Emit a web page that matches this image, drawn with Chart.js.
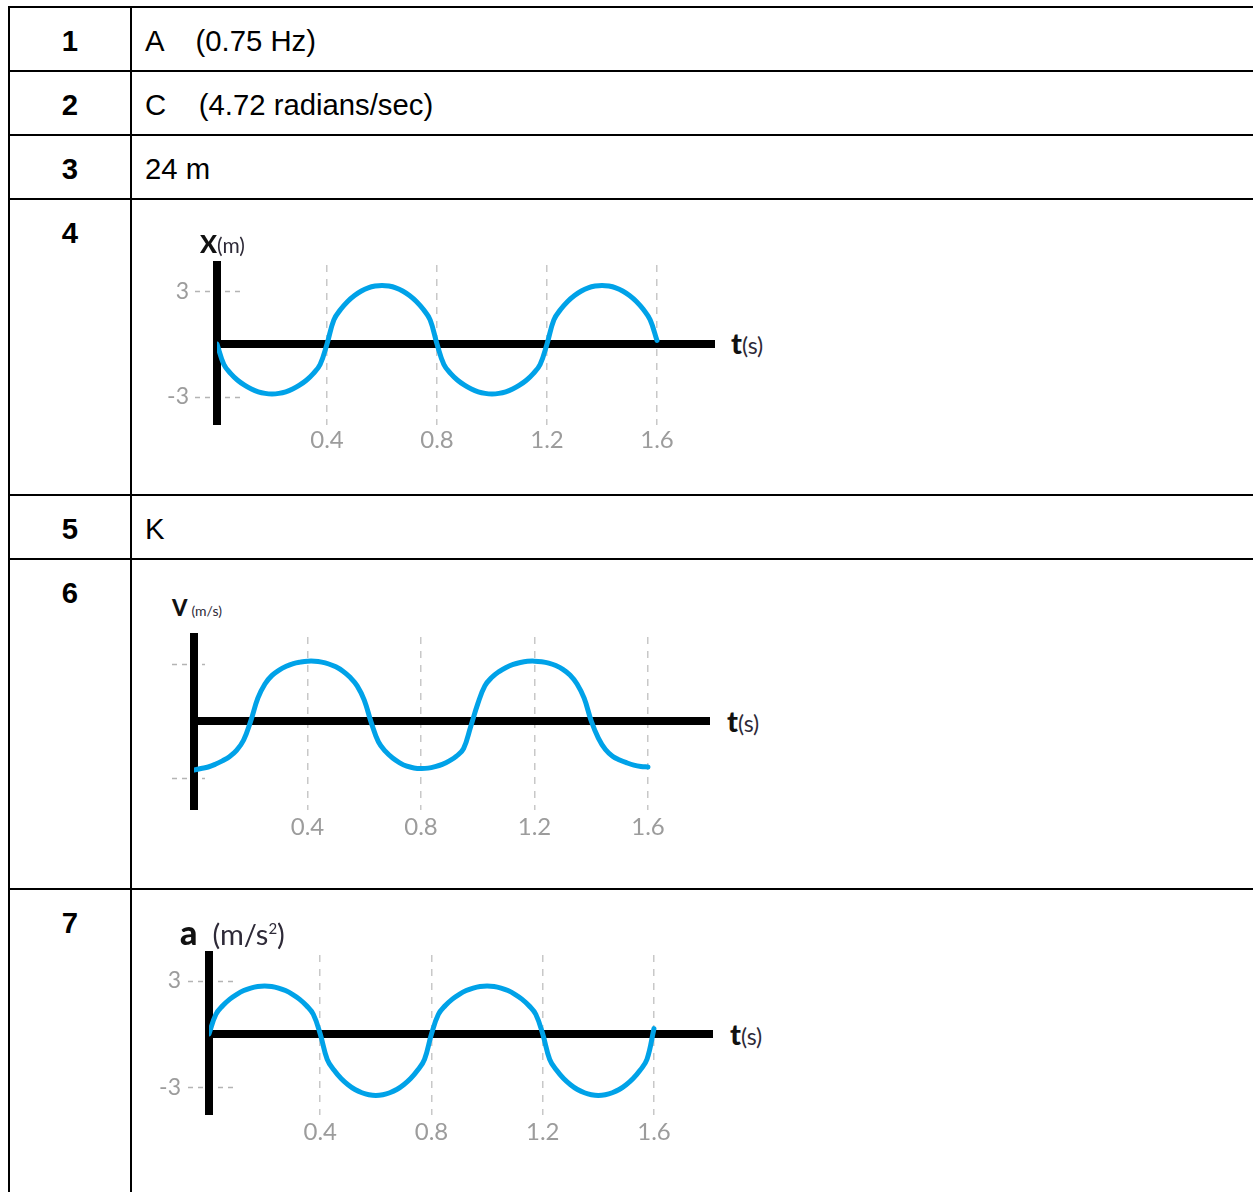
<!DOCTYPE html>
<html>
<head>
<meta charset="utf-8">
<script src="https://cdn.jsdelivr.net/npm/chart.js@4.4.1/dist/chart.umd.min.js"></script>
<style>
  html, body { margin: 0; padding: 0; background: #fff; overflow: hidden; }
  body { width: 1253px; height: 1192px; position: relative; font-family: "Liberation Sans", Arial, sans-serif; }
  .grid {
    position: absolute; left: 8px; top: 6px;
    display: grid;
    grid-template-columns: 122px 1200px;
    grid-template-rows: 64px 64px 64px 296px 64px 330px 400px;
  }
  .cell {
    box-sizing: border-box;
    border-top: 2px solid #000;
    border-left: 2px solid #000;
    font-size: 29.3px;
    padding-top: 16px;
    color: #000;
  }
  .num { font-weight: bold; text-align: center; }
  .txt { padding-left: 13px; white-space: pre; }
  canvas { position: absolute; }
  .lab {
    position: absolute;
    font-family: Lato, "Open Sans", sans-serif;
    line-height: 1;
    white-space: nowrap;
    color: #111;
  }
  .lab b { font-weight: 900; }
  .lab span { color: #2e2a38; }
</style>
</head>
<body>

<div class="grid">
  <div class="cell num">1</div><div class="cell txt">A    (0.75 Hz)</div>
  <div class="cell num">2</div><div class="cell txt">C    (4.72 radians/sec)</div>
  <div class="cell num">3</div><div class="cell txt">24 m</div>
  <div class="cell num">4</div><div class="cell txt"></div>
  <div class="cell num">5</div><div class="cell txt">K</div>
  <div class="cell num">6</div><div class="cell txt"></div>
  <div class="cell num">7</div><div class="cell txt"></div>
</div>

<canvas id="posChart"></canvas>
<canvas id="velChart"></canvas>
<canvas id="accChart"></canvas>

<div class="lab" style="left:200px; top:231px; font-size:25px;"><b>X</b><span style="font-size:21px">(m)</span></div>
<div class="lab" style="left:731px; top:328px; font-size:29px;"><b>t</b><span style="font-size:23px">(s)</span></div>

<div class="lab" style="left:172px; top:597px; font-size:22px;"><b>V</b><span style="font-size:14px; margin-left:4px">(m/s)</span></div>
<div class="lab" style="left:727px; top:706px; font-size:29px;"><b>t</b><span style="font-size:23px">(s)</span></div>

<div class="lab" style="left:180px; top:915px; font-size:34px;"><b>a</b><span style="font-size:29px; margin-left:15px">(m/s<sup style="font-size:15px">2</sup>)</span></div>
<div class="lab" style="left:730px; top:1019px; font-size:29px;"><b>t</b><span style="font-size:23px">(s)</span></div>

<script>
// time samples (s)
const times = [0, 0.025, 0.05, 0.075, 0.1, 0.125, 0.15, 0.175, 0.2, 0.225, 0.25, 0.275, 0.3, 0.325, 0.35, 0.375,
               0.4, 0.425, 0.45, 0.475, 0.5, 0.525, 0.55, 0.575, 0.6, 0.625, 0.65, 0.675, 0.7, 0.725, 0.75, 0.775,
               0.8, 0.825, 0.85, 0.875, 0.9, 0.925, 0.95, 0.975, 1.0, 1.025, 1.05, 1.075, 1.1, 1.125, 1.15, 1.175,
               1.2, 1.225, 1.25, 1.275, 1.3, 1.325, 1.35, 1.375, 1.4, 1.425, 1.45, 1.475, 1.5, 1.525, 1.55, 1.575, 1.6];

// X (m)
const positionValues = [0, -1.17, -1.69, -2.07, -2.35, -2.57, -2.73, -2.82, -2.85, -2.82, -2.73, -2.57, -2.35, -2.07, -1.69, -1.17,
                        0, 1.38, 1.98, 2.43, 2.77, 3.03, 3.21, 3.31, 3.35, 3.31, 3.21, 3.03, 2.77, 2.43, 1.98, 1.38,
                        0, -1.17, -1.69, -2.07, -2.35, -2.57, -2.73, -2.82, -2.85, -2.82, -2.73, -2.57, -2.35, -2.07, -1.69, -1.17,
                        0, 1.38, 1.98, 2.43, 2.77, 3.03, 3.21, 3.31, 3.35, 3.31, 3.21, 3.03, 2.77, 2.43, 1.98, 1.38, 0.2];

// V (m/s)
const velocityValues = [-2.58, -2.5, -2.42, -2.28, -2.1, -1.88, -1.55, -1.0, 0, 1.2, 1.95, 2.4, 2.68, 2.88, 3.02, 3.1,
                        3.15, 3.15, 3.1, 3.0, 2.85, 2.62, 2.3, 1.85, 1.1, -0.1, -1.1, -1.6, -1.95, -2.2, -2.38, -2.47,
                        -2.5, -2.48, -2.4, -2.28, -2.1, -1.85, -1.45, -0.3, 0.9, 1.85, 2.3, 2.6, 2.82, 2.98, 3.08, 3.14,
                        3.15, 3.12, 3.05, 2.92, 2.72, 2.42, 1.95, 1.2, 0, -0.9, -1.5, -1.85, -2.05, -2.2, -2.32, -2.39, -2.42];

// a (m/s^2)
const accelValues = [0, 1.11, 1.6, 1.96, 2.23, 2.44, 2.58, 2.67, 2.7, 2.67, 2.58, 2.44, 2.23, 1.96, 1.6, 1.11,
                     0, -1.42, -2.04, -2.5, -2.85, -3.12, -3.3, -3.41, -3.45, -3.41, -3.3, -3.12, -2.85, -2.5, -2.04, -1.42,
                     0, 1.11, 1.6, 1.96, 2.23, 2.44, 2.58, 2.67, 2.7, 2.67, 2.58, 2.44, 2.23, 1.96, 1.6, 1.11,
                     0, -1.42, -2.04, -2.5, -2.85, -3.12, -3.3, -3.41, -3.45, -3.41, -3.3, -3.12, -2.85, -2.5, -2.04, -1.42, 0.3];

const timeTicks = [0.4, 0.8, 1.2, 1.6];
const timeTickLabels = ["0.4", "0.8", "1.2", "1.6"];
const valueTicks = [-3, 0, 3];
const valueTickLabels = ["-3", "", "3"];

const CURVE_BLUE = "#00a2e8";
const TICK_GREY = "#9c9c9c";

// short dashed guides at the +/-3 ticks, next to the vertical axis
const tickGuides = {
    id: "tickGuides",
    beforeDraw(chart, args, opts) {
        const { ctx, chartArea } = chart;
        const y = chart.scales.y;
        ctx.save();
        ctx.strokeStyle = "#b4b4b4";
        ctx.lineWidth = 1.5;
        ctx.setLineDash([5, 5]);
        y.ticks.forEach(t => {
            if (t.value === 0) return;
            const py = Math.round(y.getPixelForValue(t.value)) + 0.5;
            ctx.beginPath();
            ctx.moveTo(chartArea.left - opts.before, py);
            ctx.lineTo(chartArea.left + opts.after, py);
            ctx.stroke();
        });
        ctx.restore();
    }
};

function timeChart(id, values, g) {
    const canvas = document.getElementById(id);
    const areaW = g.axisEnd - g.left;
    const areaH = g.bottom - g.top;
    const yW = 60, xH = 40, padTop = 10, padRight = 10;

    canvas.width = yW + areaW + padRight;
    canvas.height = padTop + areaH + xH;
    canvas.style.left = (g.left - yW) + "px";
    canvas.style.top = (g.top - padTop) + "px";

    return new Chart(canvas, {
        type: "line",
        data: {
            datasets: [{
                data: times.map((t, i) => ({ x: t, y: values[i] })),
                borderColor: CURVE_BLUE,
                borderWidth: 5,
                pointRadius: 0,
                tension: 0.4,
                borderCapStyle: "round",
                borderJoinStyle: "round",
                fill: false
            }]
        },
        options: {
            responsive: false,
            animation: false,
            events: [],
            layout: { padding: { top: padTop, right: padRight, left: 0, bottom: 0 } },
            plugins: {
                legend: { display: false },
                tooltip: { enabled: false },
                tickGuides: { before: g.guideBefore, after: g.guideAfter }
            },
            scales: {
                x: {
                    type: "linear",
                    min: 0,
                    max: areaW / g.pxPerSec,
                    afterBuildTicks: s => { s.ticks = timeTicks.map(v => ({ value: v })); },
                    afterFit: s => { s.height = xH; s.paddingLeft = 0; s.paddingRight = 0; },
                    grid: { drawTicks: false, color: "#c8c8c8", lineWidth: 1.5, z: -1 },
                    border: { display: false, dash: [7, 7] },
                    ticks: {
                        padding: g.xPad,
                        color: TICK_GREY,
                        font: { family: "Lato", size: 24 },
                        callback: (v, i) => timeTickLabels[i]
                    }
                },
                y: {
                    type: "linear",
                    min: -(g.bottom - g.zeroY) / g.pxPerUnit,
                    max: (g.zeroY - g.top) / g.pxPerUnit,
                    afterBuildTicks: s => { s.ticks = valueTicks.map(v => ({ value: v })); },
                    afterFit: s => { s.width = yW; s.paddingTop = 0; s.paddingBottom = 0; },
                    grid: {
                        color: c => (c.tick && c.tick.value === 0) ? "#000" : "rgba(0,0,0,0)",
                        lineWidth: c => (c.tick && c.tick.value === 0) ? 8 : 0,
                        tickLength: 22,
                        tickColor: "rgba(0,0,0,0)"
                    },
                    border: { display: true, color: "#000", width: 8 },
                    ticks: {
                        padding: 6,
                        color: TICK_GREY,
                        font: { family: "Lato", size: 23 },
                        callback: (v, i) => g.yLabels ? valueTickLabels[i] : ""
                    }
                }
            }
        },
        plugins: [tickGuides]
    });
}

timeChart("posChart", positionValues, {
    left: 217, top: 265, bottom: 425, zeroY: 344, axisEnd: 715,
    pxPerSec: 275, pxPerUnit: 17.5, xPad: 1, yLabels: true, guideBefore: 22, guideAfter: 28
});

timeChart("velChart", velocityValues, {
    left: 194, top: 637, bottom: 810, zeroY: 721, axisEnd: 710,
    pxPerSec: 283.75, pxPerUnit: 19, xPad: 3, yLabels: false, guideBefore: 22, guideAfter: 11
});

timeChart("accChart", accelValues, {
    left: 209, top: 955, bottom: 1115, zeroY: 1034, axisEnd: 713,
    pxPerSec: 278.1, pxPerUnit: 17.8, xPad: 3, yLabels: true, guideBefore: 21, guideAfter: 26
});
</script>
</body>
</html>
